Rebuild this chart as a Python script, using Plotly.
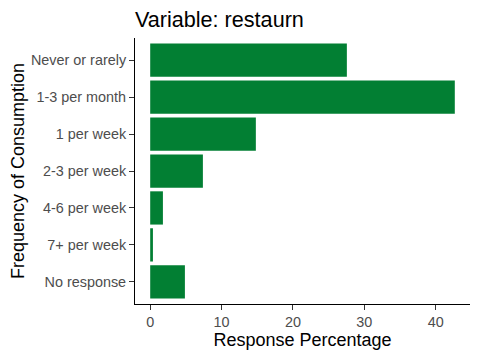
import plotly.graph_objects as go

categories = ["Never or rarely", "1-3 per month", "1 per week", "2-3 per week",
              "4-6 per week", "7+ per week", "No response"]
percentages = [27.55, 42.67, 14.8, 7.38, 1.78, 0.38, 4.86]
x_ticks = [0, 10, 20, 30, 40]

W, H = 472, 352  # page body has an 8px margin

fig = go.Figure(go.Bar(
    y=categories, x=percentages, orientation="h",
    marker=dict(color="#027F33", line=dict(width=0)),
    width=0.9,
))

fig.update_layout(
    width=W, height=H,
    margin=dict(l=127, r=10, t=30, b=56, autoexpand=False),
    plot_bgcolor="white", paper_bgcolor="white",
    font=dict(family="Liberation Sans, Arial, sans-serif", color="black"),
    showlegend=False,
    title=dict(text="Variable: restaurn", font=dict(size=21.6, color="black"),
               xref="paper", x=0, xanchor="left",
               yref="container", y=1 - 11/H, yanchor="middle"),
)
fig.update_xaxes(
    range=[-2.13, 44.8], tickvals=x_ticks, ticktext=[str(v) for v in x_ticks],
    showline=True, linecolor="black", linewidth=1, mirror=False,
    ticks="outside", ticklen=5, tickcolor="#333333", tickwidth=1,
    tickfont=dict(size=14.4, color="#4D4D4D"),
    showgrid=False, zeroline=False, automargin=False,
    title=dict(text="Response Percentage", font=dict(size=18, color="black"), standoff=4),
)
fig.update_yaxes(
    categoryorder="array", categoryarray=categories[::-1],
    range=[-0.6, 6.6],
    showline=True, linecolor="black", linewidth=1,
    ticks="outside", ticklen=5, tickcolor="#333333", tickwidth=1,
    tickfont=dict(size=14.4, color="#4D4D4D"),
    showgrid=False, zeroline=False, automargin=False,
    title=dict(text="Frequency of Consumption", font=dict(size=18, color="black"), standoff=1),
)

fig.write_html("out.html")
